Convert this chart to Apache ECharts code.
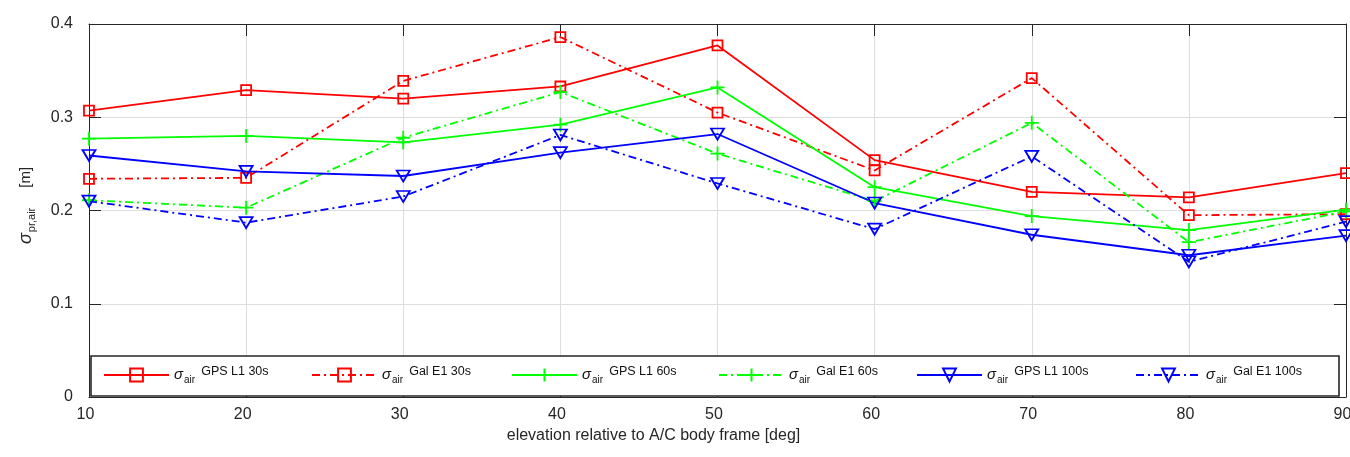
<!DOCTYPE html>
<html>
<head>
<meta charset="utf-8">
<script src="https://cdn.jsdelivr.net/npm/echarts@6/dist/echarts.min.js"></script>
<style>
  html, body { margin: 0; padding: 0; background: #fff; }
  #chart { width: 1350px; height: 457px; }
</style>
</head>
<body>
<div id="chart"></div>
<script>
// Elevation bins (deg) and airborne pseudorange error sigma (m) per signal / smoothing time
const elevation = [10, 20, 30, 40, 50, 60, 70, 80, 90];
const gpsL1_30s  = [0.307, 0.329, 0.320, 0.333, 0.377, 0.254, 0.220, 0.214, 0.240];
const galE1_30s  = [0.234, 0.235, 0.339, 0.386, 0.305, 0.243, 0.342, 0.195, 0.196];
const gpsL1_60s  = [0.277, 0.280, 0.273, 0.292, 0.332, 0.225, 0.194, 0.179, 0.201];
const galE1_60s  = [0.211, 0.203, 0.278, 0.327, 0.261, 0.210, 0.294, 0.166, 0.199];
const gpsL1_100s = [0.259, 0.242, 0.237, 0.262, 0.282, 0.208, 0.174, 0.152, 0.173];
const galE1_100s = [0.210, 0.187, 0.215, 0.281, 0.229, 0.180, 0.258, 0.145, 0.188];

const seriesNames = ['GPS L1 30s', 'Gal E1 30s', 'GPS L1 60s', 'Gal E1 60s', 'GPS L1 100s', 'Gal E1 100s'];
const yTickLabels = ['0', '0.1', '0.2', '0.3', '0.4'];
const xTickLabels = ['10', '20', '30', '40', '50', '60', '70', '80', '90'];

const FONT = "'Liberation Sans', Arial, Helvetica, sans-serif";
const AXIS_COLOR = '#262626';
const GRID_COLOR = '#dedede';
const RED = '#ff0000', GREEN = '#00ff00', BLUE = '#0000ff';
const DASH_DOT = [8, 4, 2, 4];

const SQUARE = 'rect';
const PLUS = 'path://M5,0L5,10M0,5L10,5';
const TRI_DOWN = 'path://M0,0L12,0L6,11Z';

function lineSeries(name, values, color, dashed, symbol, size) {
  return {
    name: name,
    type: 'line',
    data: elevation.map((x, i) => [x, values[i]]),
    color: color,
    symbol: symbol,
    symbolSize: size,
    lineStyle: { color: color, width: 1.8, type: dashed ? DASH_DOT : 'solid' },
    itemStyle: { color: 'rgba(0,0,0,0)', borderColor: color, borderWidth: 1.8 },
    emphasis: { disabled: true },
    clip: false
  };
}

const series = [
  lineSeries(seriesNames[0], gpsL1_30s,  RED,   false, SQUARE,   10),
  lineSeries(seriesNames[1], galE1_30s,  RED,   true,  SQUARE,   10),
  lineSeries(seriesNames[2], gpsL1_60s,  GREEN, false, PLUS,     14),
  lineSeries(seriesNames[3], galE1_60s,  GREEN, true,  PLUS,     14),
  lineSeries(seriesNames[4], gpsL1_100s, BLUE,  false, TRI_DOWN, [13, 11]),
  lineSeries(seriesNames[5], galE1_100s, BLUE,  true,  TRI_DOWN, [13, 11])
];

// legend entries: sigma with "air" subscript and signal name superscript
const legendRich = {
  s:   { fontFamily: FONT, fontStyle: 'italic', fontSize: 15, color: '#111', lineHeight: 20, verticalAlign: 'middle' },
  sub: { fontFamily: FONT, fontSize: 10, color: '#111', lineHeight: 10, verticalAlign: 'bottom', padding: [0, 0, 0, 1] },
  sup: { fontFamily: FONT, fontSize: 12.5, color: '#111', lineHeight: 11, verticalAlign: 'top', padding: [0, 0, 0, 6] }
};
const legendLeft = [103, 311, 511, 718, 916, 1135];
const legends = seriesNames.map((n, i) => ({
  data: [n],
  left: legendLeft[i] - 5,
  top: 360,
  padding: 5,
  itemWidth: 65,
  itemHeight: 16,
  selectedMode: false,
  formatter: name => '{s|σ}{sub|air}{sup|' + name + '}',
  textStyle: { rich: legendRich }
}));

const tickStyle = { show: true, inside: true, length: 12, lineStyle: { color: AXIS_COLOR, width: 1 } };
const lineAxis = { show: true, onZero: false, lineStyle: { color: AXIS_COLOR, width: 1 } };

const option = {
  animation: false,
  backgroundColor: '#fff',
  grid: { left: 89, right: 4, top: 24, bottom: 60, outerBoundsMode: 'none' },
  xAxis: [
    {
      type: 'value', min: 10, max: 90, interval: 10, position: 'bottom',
      axisLine: lineAxis, axisTick: tickStyle,
      splitLine: { show: true, lineStyle: { color: GRID_COLOR, width: 1 } },
      axisLabel: {
        show: true, margin: 10, fontFamily: FONT, fontSize: 16, color: AXIS_COLOR,
        padding: [0, 7, 0, 0], showMinLabel: true, showMaxLabel: true, hideOverlap: false,
        formatter: v => xTickLabels[elevation.indexOf(Math.round(v))] || ''
      },
      name: 'elevation relative to A/C body frame [deg]',
      nameLocation: 'middle', nameGap: 27,
      nameTextStyle: { fontFamily: FONT, fontSize: 16, color: AXIS_COLOR, padding: [0, 128, 0, 0] }
    },
    {
      type: 'value', min: 10, max: 90, interval: 10, position: 'top',
      axisLine: lineAxis, axisTick: tickStyle,
      splitLine: { show: false }, axisLabel: { show: false }
    }
  ],
  yAxis: [
    {
      type: 'value', min: 0, max: 0.4, interval: 0.1, position: 'left',
      axisLine: lineAxis, axisTick: tickStyle,
      splitLine: { show: true, lineStyle: { color: GRID_COLOR, width: 1 } },
      axisLabel: {
        show: true, margin: 16, fontFamily: FONT, fontSize: 16, color: AXIS_COLOR,
        padding: [0, 0, 6, 0], showMinLabel: true, showMaxLabel: true,
        formatter: v => yTickLabels[Math.round(v * 10)]
      },
      name: '{s|σ}{sub|pr,air}{u|[m]}',
      nameLocation: 'middle', nameGap: 52, nameRotate: 90,
      nameTextStyle: {
        padding: [0, 0, 0, 10],
        rich: {
          s:   { fontFamily: FONT, fontStyle: 'italic', fontSize: 18, color: AXIS_COLOR, lineHeight: 22, verticalAlign: 'middle' },
          sub: { fontFamily: FONT, fontSize: 11, color: AXIS_COLOR, lineHeight: 11, verticalAlign: 'bottom', padding: [0, 0, 0, 1] },
          u:   { fontFamily: FONT, fontSize: 15, color: AXIS_COLOR, lineHeight: 22, verticalAlign: 'middle', padding: [0, 0, 0, 20] }
        }
      }
    },
    {
      type: 'value', min: 0, max: 0.4, interval: 0.1, position: 'right',
      axisLine: lineAxis, axisTick: tickStyle,
      splitLine: { show: false }, axisLabel: { show: false }
    }
  ],
  legend: legends,
  graphic: [{
    type: 'rect', z: 3,
    shape: { x: 91, y: 356, width: 1248, height: 40 },
    style: { fill: '#fff', stroke: AXIS_COLOR, lineWidth: 1.6 }
  }],
  series: series
};

const chart = echarts.init(document.getElementById('chart'), null, { renderer: 'canvas' });
chart.setOption(option);
</script>
</body>
</html>
